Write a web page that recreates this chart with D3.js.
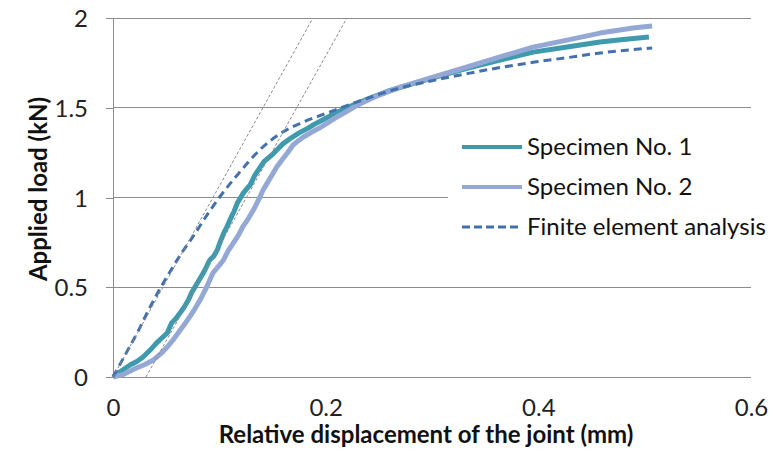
<!DOCTYPE html>
<html>
<head>
<meta charset="utf-8">
<script src="https://cdn.jsdelivr.net/npm/d3@7"></script>
<style>
  html, body { margin: 0; padding: 0; background: #fff; }
  svg { display: block; font-family: Lato, "Open Sans", sans-serif; }
</style>
</head>
<body>
<svg id="chart" width="771" height="457"></svg>
<script>
// Load–displacement measurements (mm, kN)
const specimen1 = [
  [0,0],[0.008,0.035],[0.016,0.067],[0.022,0.085],[0.028,0.11],[0.035,0.15],[0.041,0.19],
  [0.047,0.223],[0.051,0.245],[0.055,0.30],[0.059,0.325],[0.063,0.356],[0.067,0.39],
  [0.071,0.43],[0.074,0.47],[0.077,0.50],[0.081,0.54],[0.085,0.58],[0.088,0.615],
  [0.091,0.652],[0.095,0.675],[0.098,0.707],[0.101,0.755],[0.104,0.80],[0.107,0.835],
  [0.110,0.875],[0.114,0.925],[0.117,0.97],[0.122,1.02],[0.126,1.05],[0.129,1.07],
  [0.133,1.12],[0.138,1.165],[0.142,1.20],[0.146,1.22],[0.150,1.24],[0.154,1.265],
  [0.160,1.30],[0.167,1.33],[0.175,1.36],[0.183,1.385],[0.190,1.41],[0.198,1.435],
  [0.209,1.47],[0.222,1.505],[0.240,1.55],[0.260,1.595],[0.280,1.63],[0.301,1.666],
  [0.333,1.72],[0.364,1.766],[0.395,1.81],[0.427,1.838],[0.458,1.866],[0.480,1.88],
  [0.504,1.894]
];
const specimen2 = [
  [0,0],[0.010,0.015],[0.022,0.05],[0.030,0.07],[0.038,0.095],[0.045,0.13],[0.051,0.167],
  [0.057,0.21],[0.063,0.26],[0.068,0.30],[0.072,0.334],[0.077,0.38],[0.082,0.43],
  [0.085,0.465],[0.088,0.50],[0.091,0.54],[0.094,0.58],[0.099,0.615],[0.104,0.652],
  [0.108,0.70],[0.113,0.745],[0.118,0.79],[0.122,0.836],[0.127,0.88],[0.132,0.93],
  [0.135,0.965],[0.138,1.0],[0.141,1.04],[0.145,1.08],[0.149,1.12],[0.154,1.17],
  [0.159,1.21],[0.164,1.248],[0.169,1.29],[0.174,1.315],[0.179,1.337],[0.187,1.365],
  [0.195,1.39],[0.203,1.42],[0.211,1.45],[0.220,1.48],[0.230,1.515],[0.248,1.565],
  [0.270,1.615],[0.301,1.671],[0.333,1.727],[0.364,1.783],[0.395,1.838],[0.427,1.877],
  [0.458,1.916],[0.489,1.944],[0.507,1.955]
];
const feaCurve = [
  [0,0],[0.013,0.14],[0.024,0.26],[0.034,0.38],[0.044,0.49],[0.055,0.60],[0.065,0.695],
  [0.075,0.78],[0.087,0.89],[0.100,1.0],[0.119,1.14],[0.138,1.265],[0.157,1.355],
  [0.179,1.42],[0.201,1.47],[0.226,1.525],[0.270,1.61],[0.301,1.652],[0.333,1.69],
  [0.364,1.724],[0.395,1.753],[0.427,1.779],[0.458,1.805],[0.507,1.833]
];
// Initial-stiffness reference lines
const stiffnessLines = [
  [[0,0],[0.188,2]],
  [[0.031,0],[0.220,2]]
];
const xTicks = [0, 0.2, 0.4, 0.6];
const yTicks = [0, 0.5, 1, 1.5, 2];
const seriesNames = ["Specimen No. 1", "Specimen No. 2", "Finite element analysis"];

const svg = d3.select("#chart");
const x = d3.scaleLinear().domain([0, 0.6]).range([113, 751]);
const y = d3.scaleLinear().domain([0, 2]).range([377, 18]);
const grid = "#8c8c8c";

// Horizontal gridlines
svg.append("g").selectAll("line").data(yTicks.filter(d => d > 0)).join("line")
  .attr("x1", x(0)).attr("x2", x(0.6))
  .attr("y1", d => y(d)).attr("y2", d => y(d))
  .attr("stroke", grid).attr("stroke-width", 1).attr("shape-rendering", "crispEdges");

// Y axis
const yAxis = svg.append("g").attr("transform", `translate(${x(0)},0)`)
  .call(d3.axisLeft(y).tickValues(yTicks).tickSize(7).tickPadding(18).tickFormat(d3.format("")));
yAxis.select(".domain").attr("stroke", grid).attr("shape-rendering", "crispEdges");
yAxis.selectAll(".tick line").attr("stroke", grid).attr("shape-rendering", "crispEdges");
yAxis.selectAll("text").attr("font-size", 24).attr("fill", "#222")
  .attr("font-family", "Lato, sans-serif").attr("dy", "0.36em");

// X axis
const xAxis = svg.append("g").attr("transform", `translate(0,${y(0)})`)
  .call(d3.axisBottom(x).tickValues(xTicks).tickSize(0).tickPadding(27).tickFormat(d3.format("")));
xAxis.select(".domain").attr("stroke", grid).attr("shape-rendering", "crispEdges")
  .attr("d", `M${x(0) - 7},0H${x(0.6)}`);
xAxis.selectAll("text").attr("font-size", 24).attr("fill", "#222")
  .attr("font-family", "Lato, sans-serif").attr("dy", "0.5em");

// Axis titles
svg.append("text").attr("x", 426).attr("y", 443).attr("text-anchor", "middle")
  .attr("font-size", 24).attr("font-weight", "bold").attr("fill", "#111")
  .text("Relative displacement of the joint (mm)");
svg.append("text").attr("transform", "translate(47,189) rotate(-90)").attr("text-anchor", "middle")
  .attr("font-size", 24).attr("font-weight", "bold").attr("fill", "#111")
  .text("Applied load (kN)");

const line = d3.line().x(d => x(d[0])).y(d => y(d[1]));
const smooth = d3.line().x(d => x(d[0])).y(d => y(d[1])).curve(d3.curveMonotoneX);

const styles = [
  { color: "#3f9aae", width: 5, dash: null, gen: line },
  { color: "#94a8d6", width: 5, dash: null, gen: line },
  { color: "#4470ad", width: 3, dash: "8,5", gen: smooth }
];
[specimen1, specimen2, feaCurve].forEach((data, i) => {
  svg.append("path").datum(data).attr("d", styles[i].gen)
    .attr("fill", "none").attr("stroke", styles[i].color)
    .attr("stroke-width", styles[i].width).attr("stroke-linejoin", "round")
    .attr("stroke-dasharray", styles[i].dash);
});

// Stiffness reference lines
svg.append("g").selectAll("path").data(stiffnessLines).join("path")
  .attr("d", line).attr("fill", "none").attr("stroke", "#8a8a8a")
  .attr("stroke-width", 1).attr("stroke-dasharray", "3,2");

// Legend
const legend = svg.append("g");
legend.append("rect").attr("x", 448).attr("y", 125).attr("width", 323).attr("height", 125).attr("fill", "#fff");
seriesNames.forEach((name, i) => {
  const ly = 147 + i * 40;
  legend.append("line").attr("x1", 462).attr("x2", 522).attr("y1", ly).attr("y2", ly)
    .attr("stroke", styles[i].color).attr("stroke-width", i === 2 ? 3 : 4)
    .attr("stroke-dasharray", i === 2 ? "8,4" : null);
  legend.append("text").attr("x", 527).attr("y", ly + 8).attr("font-size", 24)
    .attr("fill", "#111").text(name);
});
</script>
</body>
</html>
